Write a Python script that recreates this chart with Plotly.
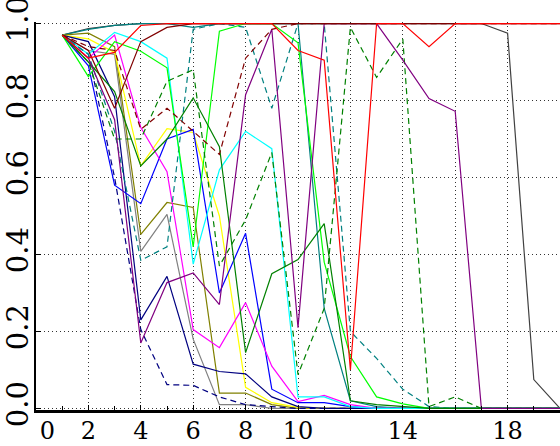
import plotly.graph_objects as go

x = list(range(1, 21))

dark_gray = [0.97, 0.987, 0.995, 1, 1, 1, 1, 1, 1, 1, 1, 1, 1, 1, 1, 1, 1, 0.975, 0.075, 0.0]
teal = [0.97, 0.985, 0.995, 1, 1, 0.99, 1, 1, 1, 1, 0.26, 0.02, 0.005, 0, 0, 0, 0, 0, 0, 0]
gray = [0.97, 0.93, 0.92, 0.408, 0.504, 0.18, 0.01, 0.01, 0, 0, 0, 0, 0, 0, 0, 0, 0, 0, 0, 0]
olive = [0.97, 0.975, 0.94, 0.452, 0.535, 0.522, 0.04, 0.04, 0.01, 0, 0, 0, 0, 0, 0, 0, 0, 0, 0, 0]
yellow = [0.97, 0.96, 0.925, 0.63, 0.727, 0.717, 0.5, 0.055, 0.015, 0.003, 0, 0, 0, 0, 0, 0, 0, 0, 0, 0]
navy_dash = [0.97, 0.92, 0.6, 0.205, 0.062, 0.06, 0.03, 0.01, 0.005, 0, 0, 0, 0, 0, 0, 0, 0, 0, 0, 0]
navy = [0.97, 0.953, 0.81, 0.23, 0.343, 0.115, 0.096, 0.09, 0.03, 0.005, 0, 0, 0, 0, 0, 0, 0, 0, 0, 0]
blue = [0.97, 0.89, 0.58, 0.532, 0.70, 0.725, 0.30, 0.455, 0.05, 0.015, 0.015, 0.005, 0, 0, 0, 0, 0, 0, 0, 0]
magenta = [0.97, 0.91, 0.97, 0.73, 0.615, 0.205, 0.158, 0.275, 0.11, 0.018, 0.034, 0.01, 0, 0, 0, 0, 0, 0, 0, 0]
cyan = [0.97, 0.92, 0.977, 0.953, 0.91, 0.375, 0.62, 0.72, 0.675, 0.03, 0.03, 0.005, 0, 0, 0, 0, 0, 0, 0, 0]
teal_dash = [0.97, 0.92, 0.72, 0.385, 0.42, 0.985, 1.0, 0.99, 0.78, 1.0, 1.0, 0.2, 0.13, 0.05, 0.005, 0, 0, 0, 0, 0]
lime = [0.97, 0.862, 0.953, 0.928, 0.885, 0.42, 0.98, 1, 1, 0.95, 0.38, 0.135, 0.03, 0.012, 0, 0, 0, 0, 0, 0]
green = [0.97, 0.9, 0.823, 0.63, 0.70, 0.807, 0.68, 0.145, 0.35, 0.387, 0.48, 0.02, 0.01, 0.005, 0, 0, 0, 0, 0, 0]
green_dash = [0.97, 0.9, 0.70, 0.70, 0.85, 0.88, 0.37, 0.49, 0.665, 0.088, 0.26, 0.99, 0.86, 0.96, 0.005, 0.03, 0, 0, 0, 0]
purple = [0.97, 0.91, 0.75, 0.17, 0.327, 0.352, 0.27, 0.815, 0.985, 0.21, 1, 1, 1, 0.905, 0.805, 0.772, 0, 0, 0, 0]
maroon = [0.97, 0.93, 0.78, 0.953, 0.99, 1, 1, 1, 1, 1, 1, 1, 1, 1, 1, 1, 1, 1, 1, 1]
maroon_dash = [0.97, 0.94, 0.93, 0.725, 0.78, 0.72, 0.66, 0.91, 0.985, 1, 1, 1, 1, 1, 1, 1, 1, 1, 1, 1]
red = [0.97, 0.91, 0.925, 0.995, 1, 1, 1, 1, 1, 0.93, 0.905, 0.10, 1, 1, 0.94, 1, 1, 1, 1, 1]

x_tickvals = [0, 2, 4, 6, 8, 10, 12, 14, 16, 18, 20]
x_ticktext = ["\u00a0\u00a0\u00a00", "2", "4", "6", "8", "10", "", "14", "", "18", ""]
y_tickvals = [0, 0.2, 0.4, 0.6, 0.8, 1.0]
y_ticktext = ["0.0", "0.2", "0.4", "0.6", "0.8", "1.0"]

series = [
    (dark_gray, "#404040", "solid"),
    (teal, "#008080", "solid"),
    (gray, "#808080", "solid"),
    (olive, "#808000", "solid"),
    (yellow, "#FFFF00", "solid"),
    (navy_dash, "#000080", "6px,4px"),
    (navy, "#000080", "solid"),
    (blue, "#0000FF", "solid"),
    (magenta, "#FF00FF", "solid"),
    (cyan, "#00FFFF", "solid"),
    (teal_dash, "#008080", "6px,4px"),
    (lime, "#00FF00", "solid"),
    (green, "#008000", "solid"),
    (green_dash, "#008000", "6px,4px"),
    (purple, "#800080", "solid"),
    (maroon, "#800000", "solid"),
    (maroon_dash, "#800000", "6px,4px"),
    (red, "#FF0000", "solid"),
]

fig = go.Figure()
for ys, col, dash in series:
    fig.add_trace(go.Scatter(x=x, y=ys, mode="lines",
                             line=dict(color=col, width=1.2, dash=dash),
                             showlegend=False, hoverinfo="skip"))

grid = dict(showgrid=True, gridcolor="#333333", gridwidth=1.3, griddash="1px,3px")
fig.update_xaxes(range=[0, 20], tickvals=x_tickvals, ticktext=x_ticktext,
                 ticks="inside", ticklen=5, tickcolor="black", tickwidth=1,
                 minor=dict(dtick=1, tick0=0, ticks="inside", ticklen=4, tickcolor="black", showgrid=False),
                 showline=True, linecolor="black", linewidth=3, zeroline=False,
                 tickfont=dict(family="DejaVu Serif", size=24, color="black"),
                 ticklabelstandoff=-3,
                 ticklabeloverflow="allow", automargin=False, **grid)
fig.update_yaxes(range=[-0.004, 1.004], tickvals=y_tickvals, ticktext=y_ticktext,
                 tickangle=-90, ticks="inside", ticklen=5, tickcolor="black",
                 showline=True, linecolor="black", linewidth=2, zeroline=False,
                 tickfont=dict(family="DejaVu Serif", size=29, color="black"),
                 ticklabelstandoff=-6,
                 ticklabeloverflow="allow", automargin=False, **grid)
fig.update_layout(width=560, height=446, margin=dict(l=36, r=0, t=22, b=36),
                  paper_bgcolor="white", plot_bgcolor="white")
fig.write_html("out.html", config={"displayModeBar": False})

with open("out.html", "r", encoding="utf-8") as f:
    html = f.read()
html = html.replace("<head>", "<head><style>html,body{margin:0;padding:0;overflow:hidden;}</style>", 1)
with open("out.html", "w", encoding="utf-8") as f:
    f.write(html)
